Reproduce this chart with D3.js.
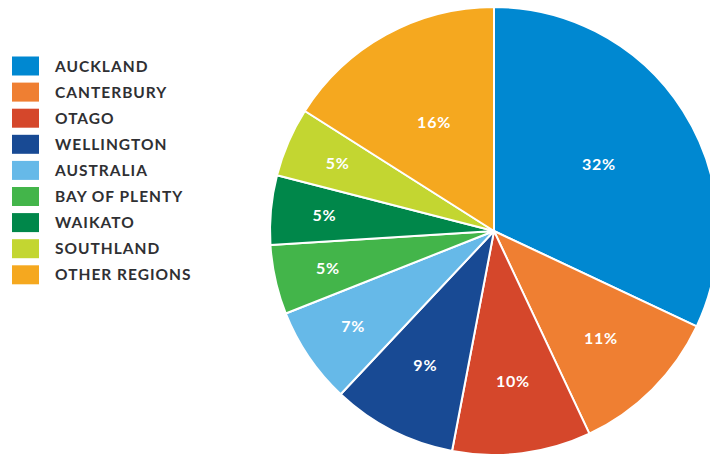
<!DOCTYPE html>
<html>
<head>
<meta charset="utf-8">
<script src="https://cdn.jsdelivr.net/npm/d3@7"></script>
<style>
    body { margin: 0; background: #fff; }
    svg { display: block; }
    text { font-family: Lato, "Open Sans", sans-serif; font-weight: 700; }
</style>
</head>
<body>
<div class="chart"></div>
<script>
// regions, clockwise from 12 o'clock
const regions = ["AUCKLAND", "CANTERBURY", "OTAGO", "WELLINGTON", "AUSTRALIA",
    "BAY OF PLENTY", "WAIKATO", "SOUTHLAND", "OTHER REGIONS"];
const shares = [32, 11, 10, 9, 7, 5, 5, 5, 16];
const colours = ["#0088d1", "#ef7f32", "#d5472b", "#184a94", "#66b9e8",
    "#43b54a", "#00874a", "#c3d631", "#f5a81f"];

const width = 710, height = 454;
const cx = 494, cy = 231, radius = 224;

const svg = d3.select(".chart")
    .append("svg")
    .attr("width", width)
    .attr("height", height);

const colour = d3.scaleOrdinal().domain(regions).range(colours);

const pie = d3.pie()
    .sort(null)
    .value((d, i) => shares[i]);

const arcs = pie(regions);
const arc = d3.arc().innerRadius(0).outerRadius(radius);

const pieG = svg.append("g").attr("transform", `translate(${cx},${cy})`);

pieG.selectAll("path.slice")
    .data(arcs).enter()
    .append("path")
    .attr("class", "slice")
    .attr("d", arc)
    .attr("fill", d => colour(d.data))
    .attr("stroke", "#fff")
    .attr("stroke-width", 2)
    .attr("stroke-linejoin", "round");

// small slices have their labels pushed further out
const labelPos = d => {
    const share = shares[d.index] / 100;
    let r = radius * 0.675;
    if (share >= 0.15) r = radius * 0.555;
    else if (share < 0.08) r = radius * 0.76;
    return d3.arc().innerRadius(r).outerRadius(r).centroid(d);
};

pieG.selectAll("text.pct")
    .data(arcs).enter()
    .append("text")
    .attr("class", "pct")
    .attr("x", d => labelPos(d)[0])
    .attr("y", d => labelPos(d)[1])
    .attr("dy", "0.36em")
    .attr("text-anchor", "middle")
    .attr("fill", "#fff")
    .style("font-size", "16px")
    .style("letter-spacing", "0.8px")
    .text(d => shares[d.index] + "%");

// legend
const legend = d3.scaleBand()
    .domain(regions)
    .range([56.5, 284.3])
    .paddingInner(0.272);

const legendG = svg.append("g");

legendG.selectAll("rect")
    .data(regions).enter()
    .append("rect")
    .attr("x", 12)
    .attr("y", d => legend(d))
    .attr("width", 27)
    .attr("height", legend.bandwidth())
    .attr("fill", d => colour(d));

legendG.selectAll("text")
    .data(regions).enter()
    .append("text")
    .attr("x", 55)
    .attr("y", d => legend(d) + legend.bandwidth() / 2)
    .attr("dy", "0.36em")
    .attr("fill", "#2f3033")
    .style("font-size", "15.5px")
    .style("letter-spacing", "1px")
    .text(d => d);
</script>
</body>
</html>
